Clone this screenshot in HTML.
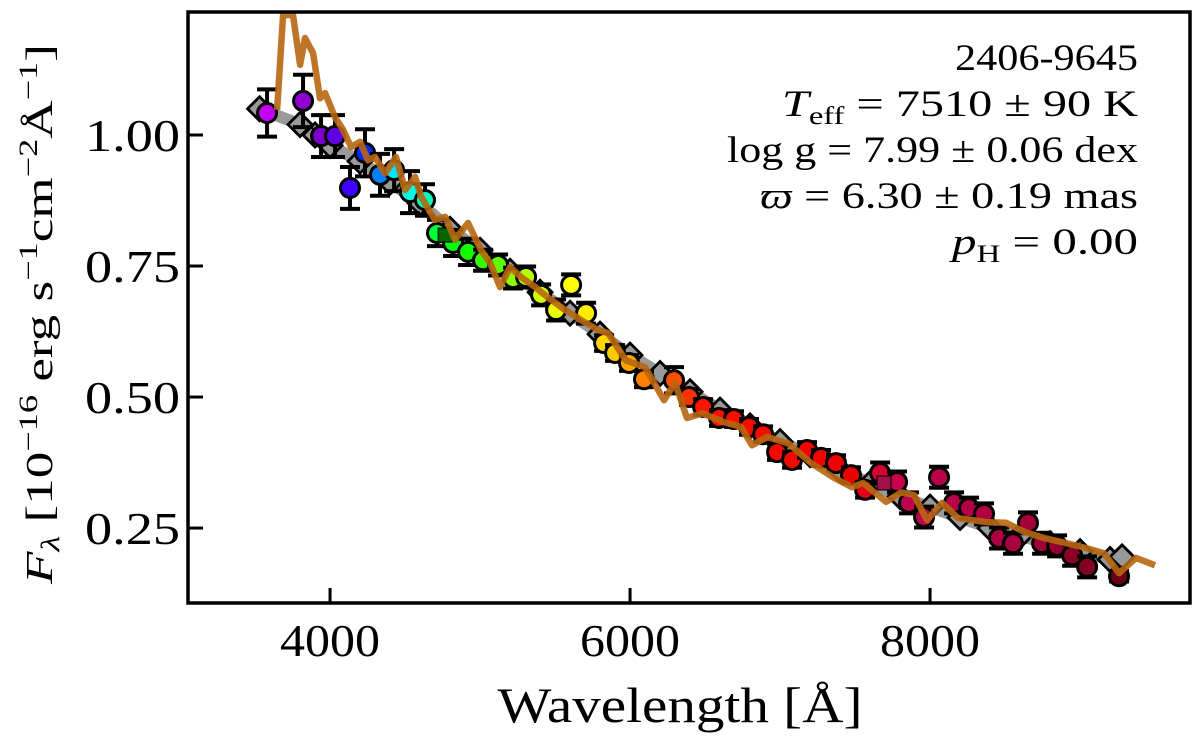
<!DOCTYPE html>
<html><head><meta charset="utf-8"><style>
html,body{margin:0;padding:0;background:#fff;}
svg{display:block;}
text{font-family:"Liberation Serif","DejaVu Serif",serif;fill:#000;}
</style></head><body>
<svg id="chart" width="1200" height="743" viewBox="0 0 1200 743" xmlns="http://www.w3.org/2000/svg">
<g id="plot"></g>
<rect x="188" y="12" width="1002" height="591" fill="none" stroke="#000" stroke-width="3.5"/>
<g id="axes"></g>
<g text-anchor="end" font-size="37">
<text x="1138" y="70" textLength="183" lengthAdjust="spacingAndGlyphs">2406-9645</text>
<text x="1138" y="116" textLength="356" lengthAdjust="spacingAndGlyphs"><tspan font-style="italic">T</tspan><tspan font-size="25" dy="8">eff</tspan><tspan dy="-8"> = 7510 ± 90 K</tspan></text>
<text x="1138" y="162" textLength="411" lengthAdjust="spacingAndGlyphs">log g = 7.99 ± 0.06 dex</text>
<text x="1138" y="208" textLength="378" lengthAdjust="spacingAndGlyphs"><tspan font-style="italic">ϖ</tspan> = 6.30 ± 0.19 mas</text>
<text x="1138" y="254" textLength="186" lengthAdjust="spacingAndGlyphs"><tspan font-style="italic">p</tspan><tspan font-size="25" dy="8">H</tspan><tspan dy="-8"> = 0.00</tspan></text>
</g>
<text x="680" y="722" font-size="50" text-anchor="middle" textLength="365" lengthAdjust="spacingAndGlyphs">Wavelength [Å]</text>
<text transform="translate(52,314) rotate(-90)" font-size="38" text-anchor="middle" textLength="540" lengthAdjust="spacingAndGlyphs"><tspan font-style="italic">F</tspan><tspan font-size="26" dy="7" font-style="italic">λ</tspan><tspan dy="-7"> [10</tspan><tspan font-size="26" dy="-15">−16</tspan><tspan dy="15"> erg s</tspan><tspan font-size="26" dy="-15">−1</tspan><tspan dy="15">cm</tspan><tspan font-size="26" dy="-15">−2</tspan><tspan dy="15">Å</tspan><tspan font-size="26" dy="-15">−1</tspan><tspan dy="15">]</tspan></text>
</svg>
<script>
const xTicks = [4000, 6000, 8000];
const yTicks = [0.25, 0.50, 0.75, 1.00];
const yTickLabels = ["0.25", "0.50", "0.75", "1.00"];
const obsWave = [3580,3820,3940,4033,4133,4233,4333,4427,4533,4633,4713,4820,4920,5020,5120,5220,5307,5407,5507,5607,5707,5827,5900,5993,6093,6293,6393,6487,6593,6693,6793,6887,6980,7080,7180,7273,7373,7473,7567,7667,7780,7860,7960,8060,8160,8260,8360,8460,8553,8653,8747,8847,8947,9047,9260];
const obsFlux = [1.042,1.065,0.998,0.998,0.899,0.966,0.924,0.933,0.891,0.876,0.813,0.794,0.777,0.761,0.752,0.727,0.729,0.695,0.666,0.714,0.660,0.603,0.584,0.565,0.534,0.532,0.500,0.481,0.460,0.458,0.443,0.429,0.395,0.380,0.399,0.384,0.374,0.351,0.323,0.355,0.338,0.298,0.271,0.347,0.298,0.288,0.277,0.231,0.221,0.260,0.221,0.216,0.198,0.176,0.158];
const obsErr = [0.045,0.05,0.04,0.04,0.04,0.045,0.04,0.04,0.04,0.03,0.025,0.025,0.025,0.02,0.02,0.02,0.02,0.02,0.02,0.02,0.02,0.015,0.015,0.015,0.015,0.025,0.015,0.015,0.015,0.015,0.015,0.015,0.015,0.015,0.015,0.015,0.015,0.015,0.015,0.02,0.02,0.02,0.02,0.02,0.02,0.02,0.02,0.02,0.02,0.02,0.02,0.02,0.02,0.02,0.01];
const sqWave = [4767, 7693];
const sqFlux = [0.809, 0.336];
const sqColor = ["#006400", "#a0104a"];
const modelWave = [3530,3800,3900,4000,4200,4400,4600,4800,5000,5200,5400,5600,5800,6000,6200,6400,6600,6800,7000,7200,7400,7600,7800,8000,8200,8400,8600,8800,9000,9200,9280];
const modelFlux = [1.05,1.02,1.00,0.98,0.95,0.91,0.87,0.82,0.78,0.74,0.70,0.66,0.62,0.58,0.545,0.51,0.475,0.445,0.415,0.39,0.36,0.335,0.31,0.29,0.27,0.25,0.235,0.22,0.205,0.19,0.195];
const specWave = [3647,3687,3753,3800,3833,3887,3933,3967,4033,4087,4140,4200,4253,4300,4367,4440,4500,4567,4607,4700,4767,4833,4920,5007,5067,5133,5200,5273,5367,5453,5567,5673,5787,5853,5973,6100,6227,6300,6380,6480,6627,6740,6813,6913,7053,7207,7353,7480,7553,7707,7807,7893,7980,8080,8187,8387,8507,8633,8760,8913,9040,9160,9260,9373,9500];
const specFlux = [1.048,1.229,1.229,1.134,1.185,1.156,1.07,1.08,1.034,1.01,0.977,0.987,0.952,0.958,0.927,0.958,0.895,0.92,0.882,0.838,0.844,0.80,0.832,0.78,0.756,0.71,0.748,0.729,0.71,0.69,0.666,0.647,0.628,0.622,0.57,0.557,0.494,0.527,0.46,0.469,0.452,0.443,0.408,0.424,0.412,0.374,0.347,0.328,0.336,0.30,0.318,0.313,0.265,0.298,0.269,0.261,0.26,0.242,0.231,0.221,0.212,0.202,0.164,0.193,0.179];

const X0=188, X1=1190, Y0=603, Y1=12, WMIN=3053, WMAX=9733, FMIN=0.107, FMAX=1.2347;
function xs(w){return X0+(w-WMIN)/(WMAX-WMIN)*(X1-X0);}
function ys(f){return Y0-(f-FMIN)/(FMAX-FMIN)*(Y0-Y1);}
const NS="http://www.w3.org/2000/svg";
function mk(tag,attrs,parent){const e=document.createElementNS(NS,tag);for(const k in attrs)e.setAttribute(k,attrs[k]);parent.appendChild(e);return e;}
const stops=[[3500,290,50],[3900,280,38],[4133,255,50],[4233,230,50],[4333,210,50],[4430,185,50],[4633,165,50],[4720,130,50],[5000,110,50],[5300,78,50],[5600,60,50],[5900,48,50],[6050,33,50],[6300,18,50],[6500,4,50],[7500,0,46],[7800,335,38],[8600,338,33],[9100,345,25],[9300,350,20]];
function colorFor(w){for(let i=0;i<stops.length-1;i++){const a=stops[i],b=stops[i+1];if(w<=b[0]){const t=Math.max(0,(w-a[0])/(b[0]-a[0]));let h1=a[1],h2=b[1];if(Math.abs(h2-h1)>180){if(h2<h1)h2+=360;else h1+=360;}const h=(h1+(h2-h1)*t)%360;return `hsl(${h},100%,${a[2]+(b[2]-a[2])*t}%)`;}}return "hsl(350,100%,20%)";}

const plot=document.getElementById('plot');
const mp=modelWave.map((w,i)=>`${i?'L':'M'}${xs(w).toFixed(1)},${ys(modelFlux[i]).toFixed(1)}`).join(' ');
const band=mk('path',{d:mp,fill:'none',stroke:'#999','stroke-width':12,'stroke-linejoin':'round'},plot);


modelWave.forEach((w,i)=>{const cx=xs(w),cy=ys(modelFlux[i]),r=12;
 const d=mk('polygon',{points:`${cx},${cy-r} ${cx+r},${cy} ${cx},${cy+r} ${cx-r},${cy}`,fill:'#999',stroke:'#000','stroke-width':2.8},plot);
 
 });
obsWave.forEach((w,i)=>{const cx=xs(w),cy=ys(obsFlux[i]),t=ys(obsFlux[i]+obsErr[i]),b=ys(obsFlux[i]-obsErr[i]);
 const g=mk('g',{},plot);
 
 
 mk('path',{d:`M${cx},${t}V${b}M${cx-10},${t}h20M${cx-10},${b}h20`,stroke:'#000','stroke-width':4,fill:'none'},g);
 mk('circle',{cx:cx,cy:cy,r:9.5,fill:colorFor(w),stroke:'#000','stroke-width':3},g);});
sqWave.forEach((w,i)=>{const cx=xs(w),cy=ys(sqFlux[i]);
 const s=mk('rect',{x:cx-7,y:cy-7,width:14,height:14,fill:sqColor[i],stroke:'#000','stroke-width':1},plot);
 
 });
const sp=specWave.map((w,i)=>`${i?'L':'M'}${xs(w).toFixed(1)},${Math.max(Y1,ys(specFlux[i])).toFixed(1)}`).join(' ');
const spec=mk('path',{d:sp,fill:'none',stroke:'#b8660f','stroke-opacity':0.9,'stroke-width':6.5,'stroke-linejoin':'round'},plot);


const ax=document.getElementById('axes');
xTicks.forEach(v=>{const x=xs(v);
 const l=mk('line',{x1:x,x2:x,y1:Y0,y2:Y0-15,stroke:'#000','stroke-width':3},ax);
 
 
 const t=mk('text',{x:x,y:656,'font-size':46,'text-anchor':'middle',textLength:100,lengthAdjust:'spacingAndGlyphs'},ax);t.textContent=v;
 
 });
yTicks.forEach((v,i)=>{const y=ys(v);
 const l=mk('line',{x1:X0,x2:X0+15,y1:y,y2:y,stroke:'#000','stroke-width':3},ax);
 
 
 const t=mk('text',{x:180,y:y+16,'font-size':46,'text-anchor':'end',textLength:95,lengthAdjust:'spacingAndGlyphs'},ax);t.textContent=yTickLabels[i];
 
 });
</script>
</body></html>
